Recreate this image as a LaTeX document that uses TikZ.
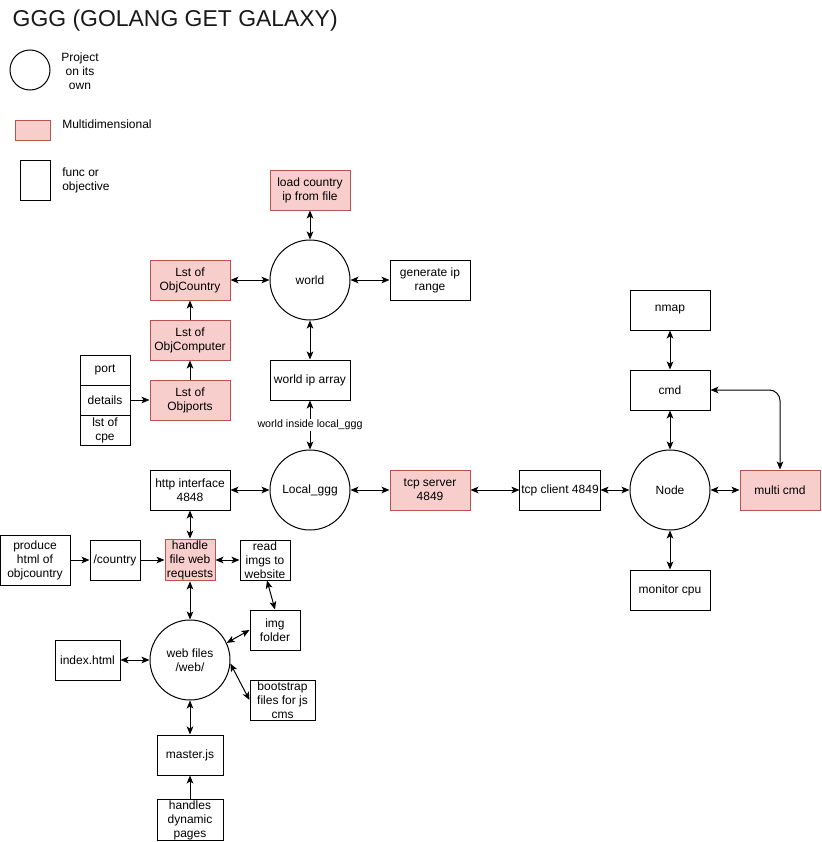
\documentclass[tikz,border=0pt]{standalone}
\usepackage{fontspec}
\setmainfont{Liberation Sans}
\usepackage{xcolor}
\usepackage{tikz}
\usetikzlibrary{shapes,arrows.meta,positioning,calc}

\definecolor{multifill}{HTML}{F8CECC}
\definecolor{multiline}{HTML}{B85450}
\newcommand{\diafont}{\fontsize{9}{10.5}\selectfont}

\begin{document}
\begin{tikzpicture}[
        x=0.75pt, y=-0.75pt,
        funcbox/.style={rectangle, draw=black, line width=0.75pt, minimum width=60pt, minimum height=30pt, inner sep=1pt, align=center, font=\diafont},
        multibox/.style={funcbox, fill=multifill, draw=multiline},
        projcircle/.style={circle, draw=black, line width=0.75pt, minimum size=60pt, inner sep=0pt, align=center, font=\diafont},
        narrow/.style={minimum width=37.5pt},
        arrow/.style={-{Stealth[length=6pt, width=5pt, inset=1.5pt]}, line width=0.75pt},
        doublearrow/.style={{Stealth[length=6pt, width=5pt, inset=1.5pt]}-{Stealth[length=6pt, width=5pt, inset=1.5pt]}, line width=0.75pt},
        note/.style={font=\fontsize{8}{9.5}\selectfont, fill=white, inner sep=1pt}
    ]
    \useasboundingbox (0,0) rectangle (821,842);

    % Title and legend
    \node[anchor=west, font=\fontsize{17.2}{20}\selectfont, text=black!90] (title) at (8,21) {GGG (GOLANG GET GALAXY)};

    \node[projcircle, minimum size=30pt] (legproj) at (30,70) {};
    \node[font=\diafont, align=center] (legprojtxt) at (80,71) {Project\\on its\\own};
    \node[multibox, minimum width=26.25pt, minimum height=15pt] (legmulti) at (32.5,130) {};
    \node[font=\diafont, anchor=west, inner sep=0pt] (legmultitxt) at (62,124) {Multidimensional};
    \node[funcbox, minimum width=22.5pt] (legfunc) at (35,180) {};
    \node[font=\diafont, align=left, anchor=west, inner sep=0pt] (legfunctxt) at (62,180) {func or\\objective};

    % World part
    \node[projcircle] (world) at (310,280) {world};
    \node[multibox] (loadip) at (310,190) {load country\\ip from file};
    \node[funcbox] (genrange) at (430,280) {generate ip\\range};
    \node[funcbox] (wiparray) at (310,380) {world ip array};
    \node[multibox] (country) at (190,280) {Lst of\\ObjCountry};
    \node[multibox] (computer) at (190,340) {Lst of\\ObjComputer};
    \node[multibox] (ports) at (190,400) {Lst of\\Objports};

    \node[funcbox, minimum width=37.5pt, minimum height=22.5pt] (port) at (105,370) {port};
    \node[funcbox, minimum width=37.5pt, minimum height=22.5pt] (details) at (105,400) {details};
    \node[funcbox, minimum width=37.5pt, minimum height=22.5pt] (cpe) at (105,430) {lst of\\cpe};

    % Local part
    \node[projcircle] (local) at (310,490) {Local\_ggg};
    \node[funcbox] (http) at (190,490) {http interface\\4848};
    \node[multibox] (tcpserver) at (430,490) {tcp server\\4849};
    \node[funcbox] (tcpclient) at (560,490) {tcp client 4849};

    % Node part
    \node[projcircle] (node) at (670,490) {Node};
    \node[funcbox] (nmap) at (670,310) {nmap};
    \node[funcbox] (cmd) at (670,390) {cmd};
    \node[funcbox] (cpu) at (670,590) {monitor cpu};
    \node[multibox] (multicmd) at (780,490) {multi cmd};

    % Web part
    \node[multibox, narrow] (handle) at (190,560) {handle\\file web\\requests};
    \node[funcbox, narrow] (countrypage) at (115,560) {/country};
    \node[funcbox, minimum width=52.5pt, minimum height=37.5pt] (produce) at (35,560) {produce\\html of\\objcountry};
    \node[funcbox, narrow] (readimg) at (265,560) {read\\imgs to\\website};
    \node[funcbox, narrow] (imgfolder) at (275,630) {img\\folder};
    \node[projcircle] (web) at (190,660) {web files\\/web/};
    \node[funcbox, minimum width=48.75pt] (index) at (87.5,660) {index.html};
    \node[funcbox, minimum width=48.75pt] (bootstrap) at (282.5,700) {bootstrap\\files for js\\cms};
    \node[funcbox, minimum width=49.5pt] (master) at (190,755) {master.js};
    \node[funcbox, minimum width=49.5pt] (dynamic) at (190,820) {handles\\dynamic\\pages};

    % Connections around world
    \draw[doublearrow] (loadip) -- (world);
    \draw[doublearrow] (world) -- (genrange);
    \draw[doublearrow] (country) -- (world);
    \draw[arrow] (computer) -- (country);
    \draw[arrow] (ports) -- (computer);
    \draw[arrow] (details) -- (ports);
    \draw[doublearrow] (world) -- (wiparray);
    \draw[doublearrow] (wiparray) -- node[note] {world inside local\_ggg} (local);

    % Connections around local and node
    \draw[doublearrow] (http) -- (local);
    \draw[doublearrow] (local) -- (tcpserver);
    \draw[doublearrow] (tcpserver) -- (tcpclient);
    \draw[doublearrow] (tcpclient) -- (node);
    \draw[doublearrow] (node) -- (multicmd);
    \draw[doublearrow] (nmap) -- (cmd);
    \draw[doublearrow] (cmd) -- (node);
    \draw[doublearrow] (node) -- (cpu);
    \draw[doublearrow, rounded corners=8pt] (cmd.east) -| (multicmd.north);

    % Connections around web
    \draw[doublearrow] (http) -- (handle);
    \draw[arrow] (produce) -- (countrypage);
    \draw[arrow] (countrypage) -- (handle);
    \draw[doublearrow] (handle) -- (readimg);
    \draw[doublearrow] ($(readimg.south)+(2,0)$) -- (imgfolder.north);
    \draw[doublearrow] (imgfolder.west) -- (web.25);
    \draw[doublearrow] (web.-5) -- (bootstrap.west);
    \draw[doublearrow] (handle) -- (web);
    \draw[doublearrow] (index) -- (web);
    \draw[doublearrow] (web) -- (master);
    \draw[arrow] (dynamic) -- (master);

\end{tikzpicture}
\end{document}
